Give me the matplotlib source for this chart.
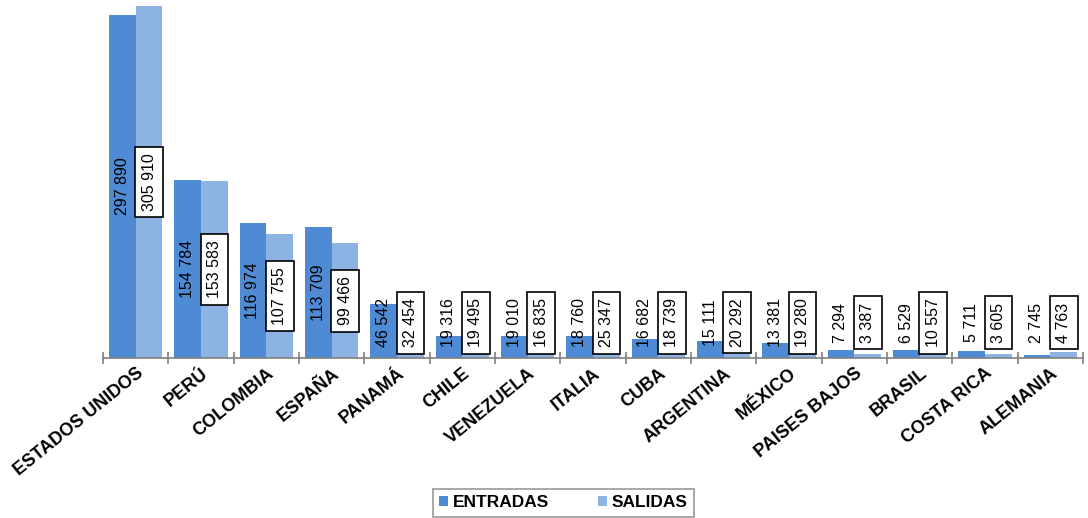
import numpy as np
import matplotlib.pyplot as plt

# Data
paises = ['ESTADOS UNIDOS', 'PERÚ', 'COLOMBIA', 'ESPAÑA', 'PANAMÁ', 'CHILE', 'VENEZUELA',
          'ITALIA', 'CUBA', 'ARGENTINA', 'MÉXICO', 'PAISES BAJOS', 'BRASIL', 'COSTA RICA', 'ALEMANIA']
entradas = [297890, 154784, 116974, 113709, 46542, 19316, 19010, 18760, 16682, 15111,
            13381, 7294, 6529, 5711, 2745]
salidas = [305910, 153583, 107755, 99466, 32454, 19495, 16835, 25347, 18739, 20292,
           19280, 3387, 10557, 3605, 4763]

c_ent = '#4f8bd4'
c_sal = '#8db3e2'

def fmt(v):
    return '{:,}'.format(v).replace(',', ' ')

fig = plt.figure(figsize=(10.88, 5.18), dpi=100)
ax = fig.add_axes([0.0947, 0.309, 0.9007, 0.691])

n = len(paises)
ind = np.arange(n)
width = 0.41

b1 = ax.bar(ind - width/2, entradas, width, color=c_ent, label='ENTRADAS')
b2 = ax.bar(ind + width/2, salidas, width, color=c_sal, label='SALIDAS')

ymax = 311000
ax.set_ylim(0, ymax)
ax.set_xlim(-0.5, n - 0.5)

# labels centered in the bar, kept above the axis for small bars
floor = 30500
for i in range(n):
    ax.text(ind[i] - width/2, max(entradas[i]/2, floor), fmt(entradas[i]),
            rotation=90, ha='center', va='center', fontsize=11.5, family='Liberation Sans')
    ax.text(ind[i] + width/2, max(salidas[i]/2, floor), fmt(salidas[i]),
            rotation=90, ha='center', va='center', fontsize=11.5, family='Liberation Sans',
            bbox=dict(boxstyle='square,pad=0.4', fc='white', ec='black', lw=1.2))

for s in ['top', 'right', 'left']:
    ax.spines[s].set_visible(False)
ax.spines['bottom'].set_color('#808080')
ax.spines['bottom'].set_linewidth(1.2)
ax.set_yticks([])

ax.set_xticks(ind)
ax.set_xticklabels(paises, rotation=39, ha='right', rotation_mode='anchor',
                   fontsize=13, fontweight='bold', family='Liberation Sans')
ax.tick_params(axis='x', which='major', length=0, pad=5)
ax.set_xticks(np.arange(-0.5, n, 1), minor=True)
ax.tick_params(axis='x', which='minor', direction='inout', length=8, color='#808080', width=1.2)

leg = fig.legend(handles=[b1, b2], loc='center', bbox_to_anchor=(0.518, 0.029), ncol=2,
                 fancybox=False, edgecolor='#808080', handlelength=0.5, handleheight=0.5,
                 handletextpad=0.3, columnspacing=2.8, borderpad=0.35, borderaxespad=0,
                 prop={'family': 'Liberation Sans', 'weight': 'bold', 'size': 12.5})
leg.get_frame().set_linewidth(1.2)

fig.savefig('out.png', dpi=100)
